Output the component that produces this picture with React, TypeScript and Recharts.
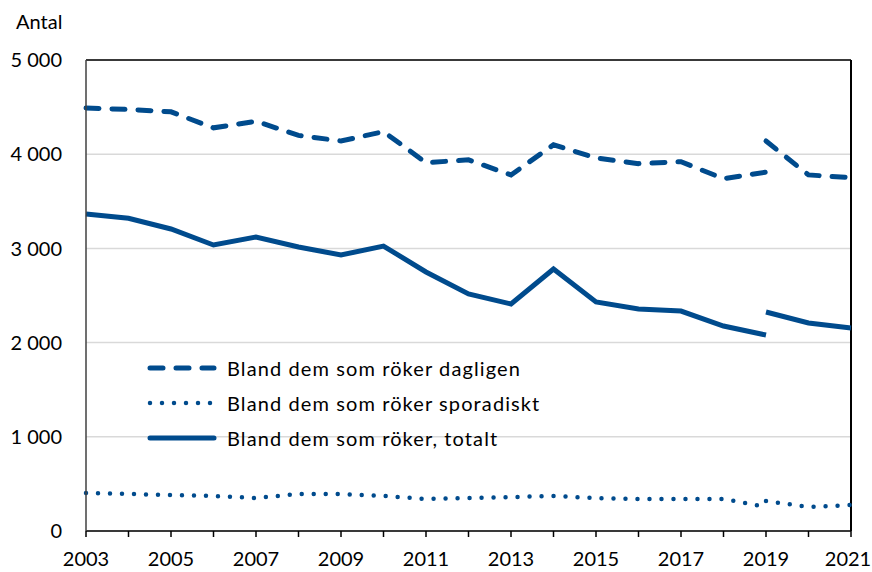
import { CartesianGrid, Line, LineChart, ReferenceLine, XAxis, YAxis } from 'recharts';

const years = [2003, 2004, 2005, 2006, 2007, 2008, 2009, 2010, 2011, 2012, 2013, 2014, 2015, 2016, 2017, 2018, 2019];
const newYears = [2019, 2020, 2021];

// series before the break in 2019
const dagligen = [4490, 4475, 4450, 4280, 4350, 4200, 4140, 4240, 3910, 3940, 3780, 4100, 3960, 3900, 3920, 3740, 3810];
const sporadiskt = [403, 393, 382, 372, 350, 393, 393, 372, 340, 350, 360, 372, 350, 340, 340, 340, 255];
const totalt = [3365, 3320, 3206, 3036, 3121, 3015, 2930, 3025, 2750, 2516, 2410, 2781, 2431, 2357, 2335, 2176, 2080];

// series after the break
const dagligenNy = [4140, 3780, 3750];
const sporadisktNy = [318, 255, 276];
const totaltNy = [2325, 2208, 2155];

const yTicks = [0, 1000, 2000, 3000, 4000, 5000];
const xTicks = [2003, 2004, 2005, 2006, 2007, 2008, 2009, 2010, 2011, 2012, 2013, 2014, 2015, 2016, 2017, 2018, 2019, 2020, 2021];

const legendLabels = ['Bland dem som röker dagligen', 'Bland dem som röker sporadiskt', 'Bland dem som röker, totalt'];

const blue = '#004b8d';
const font = 'Lato, "Open Sans", sans-serif';

const data = [...years, 2020, 2021].map((year) => {
    const i = years.indexOf(year);
    const j = newYears.indexOf(year);
    return {
        year,
        d1: i >= 0 ? dagligen[i] : null,
        s1: i >= 0 ? sporadiskt[i] : null,
        t1: i >= 0 ? totalt[i] : null,
        d2: j >= 0 ? dagligenNy[j] : null,
        s2: j >= 0 ? sporadisktNy[j] : null,
        t2: j >= 0 ? totaltNy[j] : null,
    };
});

const fmt = (v: number) => (v === 0 ? '0' : `${Math.floor(v / 1000)} ${String(v % 1000).padStart(3, '0')}`);

const lineStyles = [
    { strokeDasharray: '13 13', strokeWidth: 5 },
    { strokeDasharray: '0 12', strokeWidth: 4.5 },
    { strokeDasharray: undefined, strokeWidth: 5 },
];

const YearTick = (props: any) => {
    const { x, y, payload } = props;
    if (payload.value % 2 === 0) return null;
    const shift = payload.value === 2021 ? -3 : 0;
    return (
        <text x={x + shift} y={y} dy="0.71em" textAnchor="middle" fill="#000" fontFamily={font} fontSize={20}>
            {payload.value}
        </text>
    );
};

const LegendBox = () => (
    <div style={{ position: 'absolute', left: 145, top: 350, fontFamily: font, fontSize: 20, letterSpacing: 1.1, color: '#000' }}>
        {legendLabels.map((label, i) => (
            <div key={label} style={{ display: 'flex', alignItems: 'center', height: 35 }}>
                <svg width={82} height={12}>
                    <line
                        x1={5}
                        x2={69}
                        y1={6}
                        y2={6}
                        stroke={blue}
                        strokeLinecap="round"
                        strokeWidth={lineStyles[i].strokeWidth}
                        strokeDasharray={lineStyles[i].strokeDasharray}
                    />
                </svg>
                <span>{label}</span>
            </div>
        ))}
    </div>
);

const App = () => {
    return (
        <div style={{ position: 'absolute', left: 0, top: 0, width: 872, height: 572, background: '#fff' }}>
            <div style={{ position: 'absolute', left: 16, top: 9, fontFamily: font, fontSize: 20 }}>Antal</div>
            <LineChart width={872} height={572} data={data} margin={{ top: 60, right: 21, left: 0, bottom: 0 }}>
                <CartesianGrid vertical={false} stroke="#d9d9d9" strokeWidth={1.5} />
                <XAxis
                    dataKey="year"
                    type="number"
                    domain={[2003, 2021]}
                    ticks={xTicks}
                    interval={0}
                    height={41}
                    tickSize={6}
                    tickMargin={15}
                    stroke="#000"
                    strokeWidth={1.5}
                    tick={<YearTick />}
                />
                <YAxis
                    domain={[0, 5000]}
                    ticks={yTicks}
                    tickFormatter={fmt}
                    width={86}
                    tickLine={false}
                    tickSize={0}
                    tickMargin={24}
                    stroke="#404040"
                    strokeWidth={1.5}
                    tick={{ fill: '#000', fontFamily: font, fontSize: 20 }}
                />
                <ReferenceLine y={5000} stroke="#000" strokeWidth={1.5} />
                <ReferenceLine x={2021} stroke="#000" strokeWidth={2} />
                <Line dataKey="d1" stroke={blue} strokeWidth={5} strokeDasharray="13 13" strokeLinecap="round" dot={false} isAnimationActive={false} />
                <Line dataKey="d2" stroke={blue} strokeWidth={5} strokeDasharray="13 13" strokeLinecap="round" dot={false} isAnimationActive={false} />
                <Line dataKey="s1" stroke={blue} strokeWidth={4.5} strokeDasharray="0 12" strokeLinecap="round" dot={false} isAnimationActive={false} />
                <Line dataKey="s2" stroke={blue} strokeWidth={4.5} strokeDasharray="0 12" strokeLinecap="round" dot={false} isAnimationActive={false} />
                <Line dataKey="t1" stroke={blue} strokeWidth={5} dot={false} isAnimationActive={false} />
                <Line dataKey="t2" stroke={blue} strokeWidth={5} dot={false} isAnimationActive={false} />
            </LineChart>
            <LegendBox />
        </div>
    );
};

export default App;
